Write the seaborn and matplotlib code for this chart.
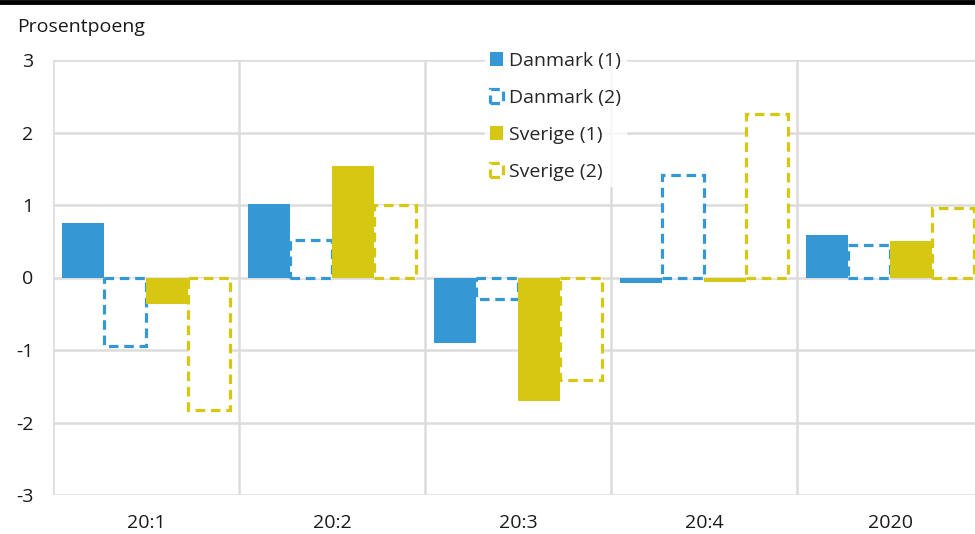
import pandas as pd
import numpy as np
import matplotlib
matplotlib.use("Agg")
import matplotlib.pyplot as plt
import seaborn as sns
from matplotlib.patches import Patch

# ============================================
# DATA
# ============================================

periods = ["20:1", "20:2", "20:3", "20:4", "2020"]
series = ["Danmark (1)", "Danmark (2)", "Sverige (1)", "Sverige (2)"]

danmark_1 = [0.75, 1.01, -0.90, -0.08, 0.59]
danmark_2 = [-0.94, 0.52, -0.30, 1.41, 0.45]
sverige_1 = [-0.37, 1.54, -1.70, -0.06, 0.50]
sverige_2 = [-1.83, 1.00, -1.41, 2.26, 0.96]

yticks = [-3, -2, -1, 0, 1, 2, 3]

blue = "#3597D3"
yellow = "#D6C812"
grid_col = "#DCDCDC"
colors = [blue, blue, yellow, yellow]
dashed = [False, True, False, True]

df = pd.DataFrame({
    "Periode": periods * 4,
    "Serie": np.repeat(series, len(periods)),
    "Verdi": danmark_1 + danmark_2 + sverige_1 + sverige_2,
})

# ============================================
# PLOT
# ============================================

sns.set_style("white")
plt.rcParams["font.family"] = ["Open Sans", "DejaVu Sans"]
fs = 14

fig = plt.figure(figsize=(9.75, 5.34), dpi=100)
ax = fig.add_axes([53 / 975, 39 / 534, 930 / 975, 435 / 534])

sns.barplot(data=df, x="Periode", y="Verdi", hue="Serie", order=periods,
            hue_order=series, palette=colors, width=0.9, gap=0,
            saturation=1, legend=False, ax=ax, zorder=3)

for cont, col, dash in zip(ax.containers, colors, dashed):
    for p in cont:
        if dash:
            p.set_facecolor("white")
            p.set_edgecolor(col)
            p.set_linewidth(2.3)
            p.set_linestyle((0, (3, 1.8)))
        else:
            p.set_facecolor(col)
            p.set_edgecolor("none")

ax.set_xlim(-0.5, 4.5)
ax.set_ylim(-3, 3)
ax.set_yticks(yticks)
ax.set_yticklabels([str(t) for t in yticks])

# grid: horizontal lines and category separators
for t in yticks:
    ax.axhline(t, color=grid_col, lw=1.8, zorder=0)
for x in np.arange(-0.5, 5, 1):
    ax.axvline(x, color=grid_col, lw=1.8, zorder=0)

for s in ax.spines.values():
    s.set_visible(False)

ax.tick_params(axis="both", length=0, labelsize=fs, colors="#1a1a1a")
ax.tick_params(axis="y", pad=14)
ax.tick_params(axis="x", pad=14)
ax.set_xlabel("")
ax.set_ylabel("")

# legend
handles = []
for name, col, dash in zip(series, colors, dashed):
    if dash:
        handles.append(Patch(facecolor="white", edgecolor=col, linewidth=2.3,
                             linestyle=(0, (3, 1.8)), label=name))
    else:
        handles.append(Patch(facecolor=col, edgecolor="none", label=name))
leg = ax.legend(handles=handles, loc="upper left",
                bbox_to_anchor=(485 / 975, 1 - 47 / 534), bbox_transform=fig.transFigure,
                frameon=True, fontsize=fs, handlelength=0.7, handleheight=0.7,
                handletextpad=0.3, labelspacing=0.98, borderpad=0.25,
                fancybox=False, borderaxespad=0)
leg.get_frame().set_facecolor("white")
leg.get_frame().set_edgecolor("white")
leg.set_zorder(5)

# title and top rule
fig.text(17 / 975, 1 - 27 / 534, "Prosentpoeng", fontsize=fs, va="center",
         ha="left", color="#1a1a1a")
fig.add_artist(plt.Line2D([0, 1], [1 - 2 / 534, 1 - 2 / 534], color="black",
                          lw=3.5, transform=fig.transFigure))

plt.savefig("out.png", dpi=100)
